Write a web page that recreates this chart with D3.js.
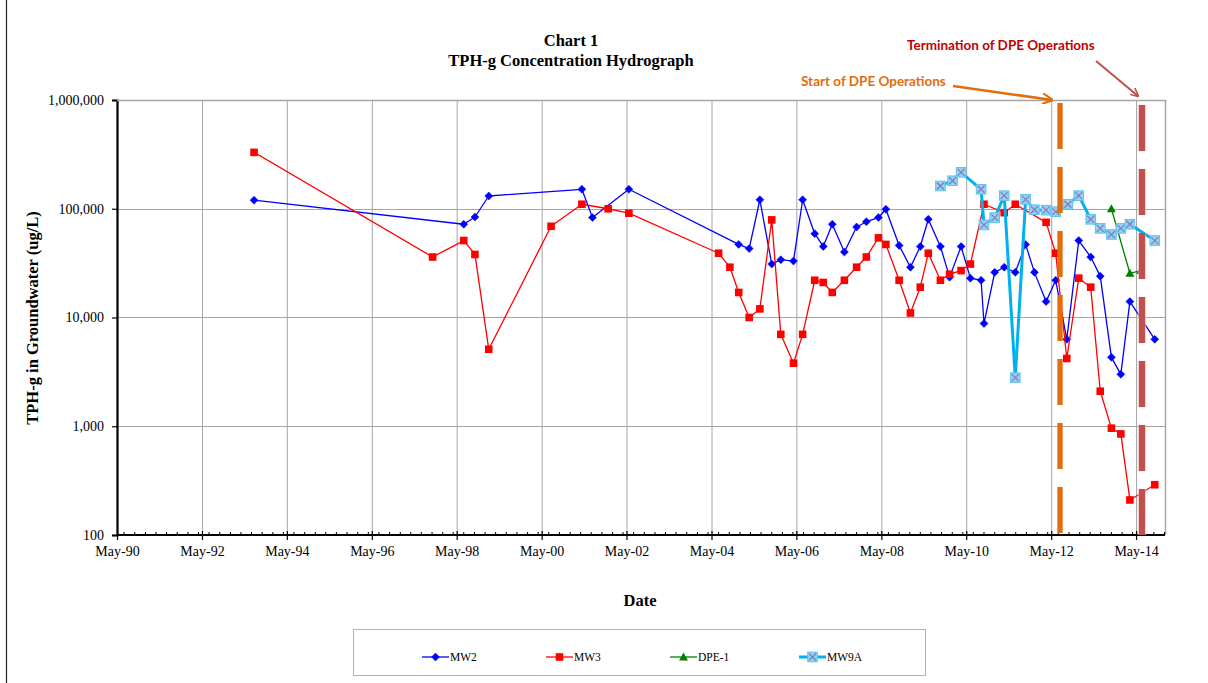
<!DOCTYPE html>
<html>
<head>
<meta charset="utf-8">
<script src="https://cdn.jsdelivr.net/npm/d3@7"></script>
<style>
html,body{margin:0;padding:0;background:#fff;}
svg{display:block;}
</style>
</head>
<body>
<svg id="chart" width="1208" height="683"></svg>
<script>
// ---------- DATA ----------
const titleLines = ["Chart 1", "TPH-g Concentration Hydrograph"];
const yTickValues = [100, 1000, 10000, 100000, 1000000];
const xTickYears = [1990, 1992, 1994, 1996, 1998, 2000, 2002, 2004, 2006, 2008, 2010, 2012, 2014];
const seriesNames = ["MW2", "MW3", "DPE-1", "MW9A"];

const mw2Dates = ["1993-07-23","1998-07-01","1998-10-05","1999-02-01","2001-04-12","2001-07-12","2002-05-21",
  "2004-12-21","2005-03-21","2005-06-21","2005-10-01","2005-12-18","2006-04-06","2006-06-24","2006-10-06",
  "2006-12-18","2007-03-06","2007-06-18","2007-10-01","2007-12-24","2008-04-06","2008-06-09","2008-10-01",
  "2009-01-06","2009-04-01","2009-06-09","2009-09-21","2009-12-09","2010-03-18","2010-06-06","2010-09-06",
  "2010-10-01","2011-01-01","2011-03-24","2011-06-27","2011-09-24","2011-12-09","2012-03-18","2012-06-09",
  "2012-09-12","2012-12-24","2013-04-06","2013-06-27","2013-10-01","2013-12-21","2014-03-09","2014-10-09"];
const mw2Values = [120000,72000,84000,131000,151000,83000,151000,
  47000,43000,121000,31000,34000,33000,121000,59000,
  45000,72000,40000,68000,76000,83000,99000,46000,
  29000,45000,80000,45000,23500,45000,23000,22000,
  8800,26000,29000,26000,47000,26000,14000,22000,
  6300,51000,36000,24000,4300,3000,14000,6300];

const mw3Dates = ["1993-07-23","1997-10-06","1998-07-01","1998-10-05","1999-02-01","2000-07-21","2001-04-12",
  "2001-11-24","2002-05-21","2004-07-01","2004-10-06","2004-12-21","2005-03-21","2005-06-21","2005-10-01",
  "2005-12-18","2006-04-06","2006-06-24","2006-10-06","2006-12-18","2007-03-06","2007-06-18","2007-10-01",
  "2007-12-24","2008-04-06","2008-06-09","2008-10-01","2009-01-06","2009-04-01","2009-06-09","2009-09-21",
  "2009-12-09","2010-03-18","2010-06-06","2010-10-01","2011-03-24","2011-06-27","2012-03-18","2012-06-09",
  "2012-09-12","2012-12-24","2013-04-06","2013-06-27","2013-10-01","2013-12-21","2014-03-09","2014-10-09"];
const mw3Values = [330000,36000,51000,38000,5100,69000,110000,
  100000,91000,39000,29000,17000,10000,12000,79000,
  7000,3800,7000,22000,21000,17000,22000,29000,
  36000,54000,47000,22000,11000,19000,39000,22000,
  25000,27000,31000,110000,92000,110000,75000,39000,
  4200,23000,19000,2100,960,850,210,290];

const dpe1Dates = ["2013-10-01","2014-03-09","2014-06-10"];
const dpe1Values = [100000,25500,27000];

const mw9aDates = ["2009-09-21","2010-01-04","2010-03-18","2010-09-06","2010-10-01","2011-01-01","2011-03-24",
  "2011-06-27","2011-09-24","2011-12-09","2012-03-18","2012-06-09","2012-09-21","2012-12-24","2013-04-06",
  "2013-06-27","2013-10-01","2013-12-21","2014-03-09","2014-10-09"];
const mw9aValues = [162000,181000,216000,151000,71000,83000,132000,
  2800,122000,98000,97000,94000,110000,132000,80000,
  66000,58000,66000,72000,51000];

const dpeEventDates = ["2012-07-16","2014-06-21"];
const dpeEventLabels = ["Start of DPE Operations","Termination of DPE Operations"];

// ---------- SETUP ----------
const parse = d3.timeParse("%Y-%m-%d");
const svg = d3.select("#chart");
const L = 117, R = 1165, T = 100, B = 535;

const x = d3.scaleTime().domain([new Date(1990,4,1), new Date(2015,0,5)]).range([L, R]);
const y = d3.scaleLog().domain([100, 1000000]).range([B, T]);

const serif = "'Liberation Serif','Times New Roman',serif";
const sans = "Lato,'Open Sans',sans-serif";

// outer frame (left edge visible)
svg.append("line").attr("x1",6.5).attr("x2",6.5).attr("y1",0).attr("y2",683)
  .attr("stroke","#222").attr("stroke-width",1.2);

// title
svg.append("g").selectAll("text").data(titleLines).join("text")
  .attr("x",571).attr("y",(d,i)=>46+i*20).attr("text-anchor","middle")
  .attr("font-family",serif).attr("font-weight","bold").attr("font-size",16.5).text(d=>d);

// gridlines
const xTicks = xTickYears.map(yr => new Date(yr,4,1));
svg.append("g").selectAll("line").data(xTicks.slice(1)).join("line")
  .attr("x1",d=>x(d)+0.5).attr("x2",d=>x(d)+0.5).attr("y1",T).attr("y2",B)
  .attr("stroke","#a6a6a6").attr("stroke-width",1);
svg.append("g").selectAll("line").data(yTickValues.slice(1)).join("line")
  .attr("x1",L).attr("x2",R).attr("y1",d=>Math.round(y(d))+0.5).attr("y2",d=>Math.round(y(d))+0.5)
  .attr("stroke","#a6a6a6").attr("stroke-width",1);
// plot border right
svg.append("line").attr("x1",R+0.5).attr("x2",R+0.5).attr("y1",T).attr("y2",B)
  .attr("stroke","#a6a6a6").attr("stroke-width",1.5);

// minor x ticks (every 3 months)
const minorTicks = d3.timeMonth.every(3).range(new Date(1990,4,1), new Date(2015,0,5));
svg.append("g").selectAll("line").data(minorTicks).join("line")
  .attr("x1",d=>x(d)).attr("x2",d=>x(d)).attr("y1",B-3).attr("y2",B)
  .attr("stroke","#000").attr("stroke-width",1);

// y axis
const yAxis = d3.axisLeft(y).tickValues(yTickValues).tickSize(5).tickFormat(d3.format(","));
const gy = svg.append("g").attr("transform",`translate(${L},0)`).call(yAxis);
gy.select(".domain").attr("stroke","#000").attr("stroke-width",2.2);
gy.selectAll(".tick line").attr("stroke","#000").attr("stroke-width",1.2);
gy.selectAll(".tick text").attr("font-family",serif).attr("font-size",14).attr("fill","#000").attr("x",-13);

// x axis
const xAxis = d3.axisBottom(x).tickValues(xTicks).tickSize(5).tickFormat(d3.timeFormat("%b-%y"));
const gx = svg.append("g").attr("transform",`translate(0,${B})`).call(xAxis);
gx.select(".domain").attr("stroke","#000").attr("stroke-width",2.2).attr("d",`M${L},0H${R}`);
gx.selectAll(".tick line").attr("stroke","#000").attr("stroke-width",1.2).attr("y1",-4);
gx.selectAll(".tick text").attr("font-family",serif).attr("font-size",14).attr("fill","#000").attr("y",11);

// plot top border
svg.append("line").attr("x1",L).attr("x2",R+1).attr("y1",T+0.5).attr("y2",T+0.5)
  .attr("stroke","#a6a6a6").attr("stroke-width",1.5);

// axis titles
svg.append("text").attr("transform","translate(38,318) rotate(-90)").attr("text-anchor","middle")
  .attr("font-family",serif).attr("font-weight","bold").attr("font-size",16.5).text("TPH-g in Groundwater (ug/L)");
svg.append("text").attr("x",640).attr("y",606).attr("text-anchor","middle")
  .attr("font-family",serif).attr("font-weight","bold").attr("font-size",16.5).text("Date");

// ---------- SERIES ----------
function mk(dates, vals){ return dates.map((d,i)=>({date:parse(d), v:vals[i]})); }
const series = [
  {name:seriesNames[0], data:mk(mw2Dates,mw2Values), color:"#0000ff", width:1.3, marker:"diamond"},
  {name:seriesNames[1], data:mk(mw3Dates,mw3Values), color:"#ff0000", width:1.3, marker:"square"},
  {name:seriesNames[2], data:mk(dpe1Dates,dpe1Values), color:"#008000", width:1.3, marker:"triangle"},
  {name:seriesNames[3], data:mk(mw9aDates,mw9aValues), color:"#00b0f0", width:3, marker:"xsquare"}
];
const line = d3.line().x(d=>x(d.date)).y(d=>y(d.v));

function drawMarker(g, type, color){
  if(type==="diamond"){
    g.append("path").attr("d","M0,-4L4,0L0,4L-4,0Z").attr("fill",color).attr("stroke",color).attr("stroke-width",0.5);
  } else if(type==="square"){
    g.append("rect").attr("x",-3.8).attr("y",-3.8).attr("width",7.6).attr("height",7.6).attr("fill",color);
  } else if(type==="triangle"){
    g.append("path").attr("d","M0,-4.5L4.5,3.5L-4.5,3.5Z").attr("fill",color);
  } else {
    g.append("rect").attr("x",-4.8).attr("y",-4.8).attr("width",9.6).attr("height",9.6)
      .attr("fill","#8fd4f4").attr("stroke","#5cc3f0").attr("stroke-width",1);
    g.append("path").attr("d","M-3.5,-3.5L3.5,3.5M-3.5,3.5L3.5,-3.5").attr("stroke","#8a78b8").attr("stroke-width",1.2);
  }
}

series.forEach(s=>{
  const g = svg.append("g");
  g.append("path").datum(s.data).attr("d",line).attr("fill","none")
    .attr("stroke",s.color).attr("stroke-width",s.width).attr("stroke-linejoin","round");
  g.selectAll("g.m").data(s.data).join("g").attr("class","m")
    .attr("transform",d=>`translate(${x(d.date)},${y(d.v)})`)
    .each(function(){ drawMarker(d3.select(this), s.marker, s.color); });
});

// ---------- DPE EVENT LINES ----------
const xs = x(parse(dpeEventDates[0])), xe = x(parse(dpeEventDates[1]));
svg.append("line").attr("x1",xe).attr("x2",xe).attr("y1",105).attr("y2",B)
  .attr("stroke","#e6b9b8").attr("stroke-width",8.5).attr("stroke-dasharray","46,18").attr("opacity",0.6);
svg.append("line").attr("x1",xs).attr("x2",xs).attr("y1",103).attr("y2",B)
  .attr("stroke","#e46c0a").attr("stroke-width",5.3).attr("stroke-dasharray","46,18");
svg.append("line").attr("x1",xe).attr("x2",xe).attr("y1",105).attr("y2",B)
  .attr("stroke","#c0504d").attr("stroke-width",6).attr("stroke-dasharray","46,18");

// annotations
const defs = svg.append("defs");
[["arrO","#e46c0a"],["arrR","#c0504d"]].forEach(([id,c])=>{
  defs.append("marker").attr("id",id).attr("viewBox","0 0 10 10").attr("refX",9).attr("refY",5)
    .attr("markerWidth",4.2).attr("markerHeight",4.2).attr("orient","auto")
    .append("path").attr("d","M0,0L10,5L0,10").attr("fill","none").attr("stroke",c).attr("stroke-width",2);
});
svg.append("line").attr("x1",953).attr("y1",86).attr("x2",xs-8).attr("y2",100)
  .attr("stroke","#e46c0a").attr("stroke-width",2.6).attr("marker-end","url(#arrO)");
svg.append("line").attr("x1",1096).attr("y1",61).attr("x2",xe-4).attr("y2",96)
  .attr("stroke","#c0504d").attr("stroke-width",2).attr("marker-end","url(#arrR)");
svg.append("text").attr("x",801).attr("y",86).attr("font-family",sans).attr("font-weight","bold")
  .attr("font-size",13.5).attr("fill","#e46c0a").text(dpeEventLabels[0]);
svg.append("text").attr("x",907).attr("y",50).attr("font-family",sans).attr("font-weight","bold")
  .attr("font-size",13.5).attr("fill","#c00000").text(dpeEventLabels[1]);

// ---------- LEGEND ----------
const lg = svg.append("g");
lg.append("rect").attr("x",353.5).attr("y",629.5).attr("width",572).attr("height",46)
  .attr("fill","#fff").attr("stroke","#b3b3b3").attr("stroke-width",1);
const legX = [422, 546, 670, 799];
series.forEach((s,i)=>{
  const g = lg.append("g").attr("transform",`translate(${legX[i]},657)`);
  g.append("line").attr("x1",0).attr("x2",27).attr("y1",0).attr("y2",0)
    .attr("stroke",s.color).attr("stroke-width",s.width);
  const m = g.append("g").attr("transform","translate(13.5,0)");
  drawMarker(m, s.marker, s.color);
  g.append("text").attr("x",28).attr("y",4).attr("font-family",serif).attr("font-size",11.5).text(s.name);
});
</script>
</body>
</html>
